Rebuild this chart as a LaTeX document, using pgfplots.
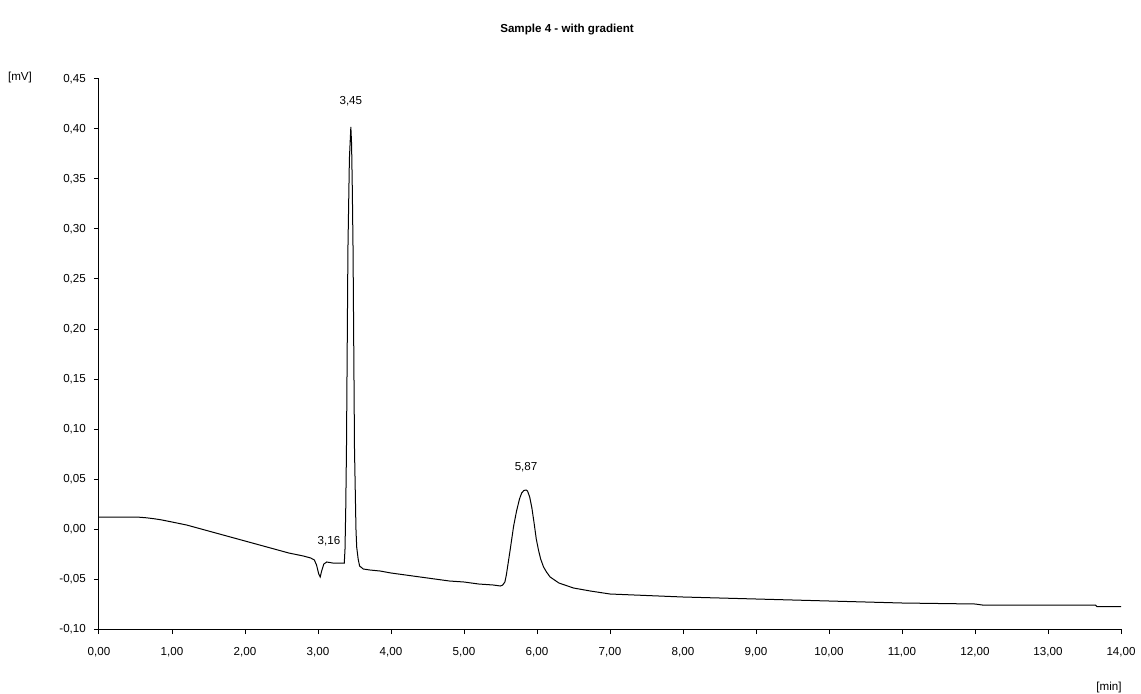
\documentclass[border=0pt]{standalone}
\usepackage{pgfplots}
\pgfplotsset{compat=1.18}
\usepackage{fontspec}
\setmainfont{Liberation Sans}
\begin{document}
\fontsize{8.7}{10}\selectfont
\begin{tikzpicture}
\path[use as bounding box] (-74.25pt,-48pt) rectangle (781.5pt,471.75pt);
\begin{axis}[
  at={(0,0)}, anchor=south west,
  scale only axis, width=766.5pt, height=412.5pt,
  xmin=0, xmax=14, ymin=-0.10, ymax=0.45,
  axis x line=bottom, axis y line=left,
  axis line style={-, line width=0.75pt},
  xtick={0,1,...,14},
  ytick={-0.10,-0.05,0,0.05,0.10,0.15,0.20,0.25,0.30,0.35,0.40,0.45},
  tick align=outside, major tick length=3.75pt,
  tick style={line width=0.75pt, black},
  /pgf/number format/.cd, fixed, fixed zerofill, precision=2, use comma, assume math mode=true,
  /pgfplots/.cd,
  ticklabel style={font=\fontsize{8.7}{10}\selectfont},
  xticklabel style={yshift=-7pt},
  yticklabel style={xshift=-3pt},
  clip=false,
]
\addplot[black, line width=0.75pt] coordinates {
(0,0.012) (0.45,0.012) (0.55,0.0118) (0.65,0.0112) (0.75,0.0103) (0.85,0.0092) (1.0,0.007) (1.2,0.004) (1.4,0.000)
(1.6,-0.004) (1.8,-0.008) (2.0,-0.012) (2.2,-0.016) (2.4,-0.020) (2.6,-0.024)
(2.8,-0.027) (2.9,-0.029) (2.95,-0.031) (2.98,-0.036) (3.01,-0.045) (3.03,-0.048)
(3.05,-0.042) (3.08,-0.035) (3.12,-0.033) (3.2,-0.034) (3.3,-0.034) (3.36,-0.034)
(3.37,-0.020) (3.38,0.02) (3.39,0.08) (3.41,0.28) (3.43,0.37) (3.45,0.402)
(3.46,0.385) (3.47,0.34) (3.48,0.28) (3.50,0.08) (3.52,0.0) (3.53,-0.018)
(3.55,-0.030) (3.57,-0.037) (3.62,-0.040) (3.71,-0.041) (3.85,-0.042) (4.0,-0.044)
(4.2,-0.046) (4.5,-0.049) (4.8,-0.052) (5.0,-0.053) (5.2,-0.055) (5.4,-0.056)
(5.5,-0.057) (5.53,-0.056) (5.56,-0.053) (5.58,-0.046) (5.63,-0.022) (5.68,0.003)
(5.72,0.018) (5.76,0.030) (5.79,0.036) (5.82,0.0385) (5.85,0.039) (5.87,0.038) (5.90,0.032) (5.93,0.021)
(5.96,0.006) (5.99,-0.010) (6.02,-0.021) (6.05,-0.030) (6.09,-0.038) (6.13,-0.043) (6.18,-0.048) (6.3,-0.054)
(6.5,-0.059) (6.73,-0.062) (7.0,-0.065) (8.0,-0.068) (9.0,-0.070) (10.0,-0.072)
(11.0,-0.074) (12.0,-0.075) (12.1,-0.076) (13.0,-0.076) (13.65,-0.076) (13.67,-0.0775) (14.0,-0.0775)
};
\node at (axis cs:3.45,0.428) {3,45};
\node at (axis cs:3.15,-0.012) {3,16};
\node at (axis cs:5.85,0.062) {5,87};
\end{axis}
\node at (-59.25pt,413.25pt) {[mV]};
\node at (757.5pt,-43.5pt) {[min]};
\node[font=\bfseries\fontsize{8.7}{10}\selectfont] at (351pt,449.5pt) {Sample 4 - with gradient};
\end{tikzpicture}
\end{document}
